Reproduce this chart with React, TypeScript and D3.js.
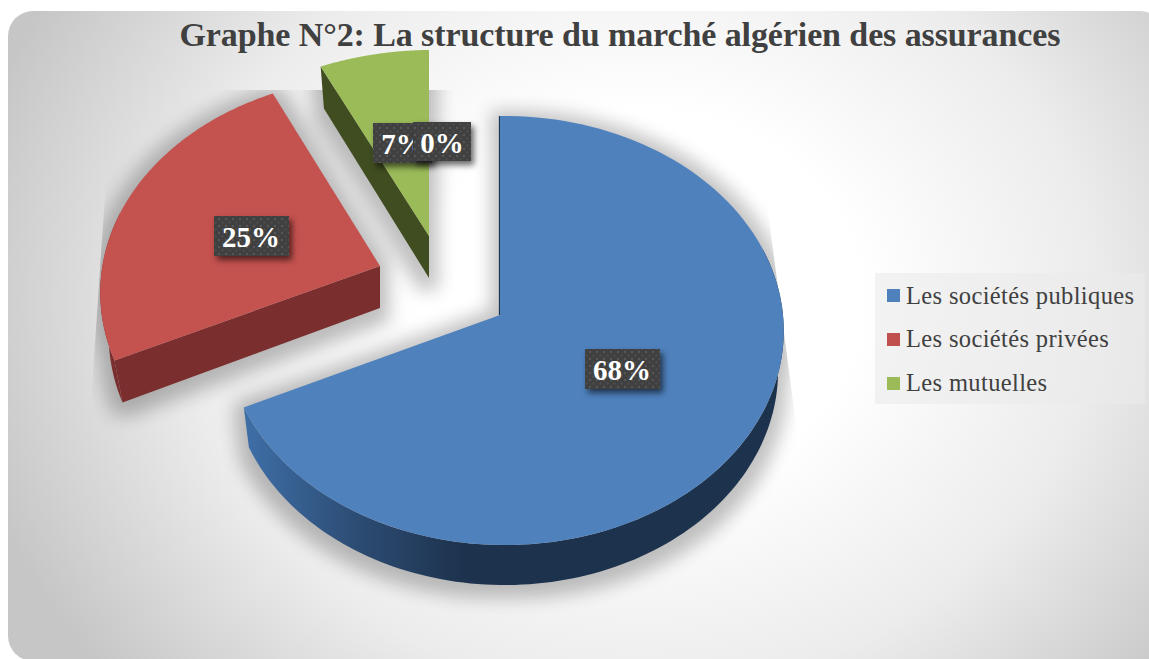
import React from "react";
import * as d3 from "d3";

const categories = ["Les sociétés publiques", "Les sociétés privées", "Les mutuelles", ""];
const shares = [68, 25, 7, 0];
const sliceColors = ["#4f81bd", "#c4524f", "#9bbb59"];
const sideColors = ["#1d324d", "#7a2f2e", "#404d20"];
const legendColors = ["#4f81bd", "#c0504d", "#9bbb59"];
const titleText = "Graphe N°2: La structure du marché algérien des assurances";

const W = 1149, H = 659;
const RY = 213.4, TILT_X = 0.0159;

// per-slice projection: apex position, perspective strength, extrusion
const sliceViews = [
  { ax: 500, ay: 315, rx: 278.5, k: 0.0723, depth: 40, shrink: 0.98, wall: [72, 244.8] },
  { ax: 380, ay: 266, rx: 282, k: 0.125, depth: 42, shrink: 0.97, wall: [244.8, 285] },
  { ax: 429, ay: 236, rx: 290, k: 0.147, depth: 42, shrink: 0.97, wall: null },
];
const labelBoxes = [
  { i: 0, x: 585, y: 349, w: 75, h: 40, text: "68%", tx: 622 },
  { i: 1, x: 214, y: 216, w: 75, h: 40, text: "25%", tx: 251 },
  { i: 2, x: 373, y: 123, w: 59, h: 40, text: "7%", tx: 403 },
  { i: 3, x: 413, y: 122, w: 58, h: 39, text: "0%", tx: 442 },
];

type View = (typeof sliceViews)[number];
type P = [number, number];

const project = (v: View, a: number): P => {
  const u = Math.sin(a), c = Math.cos(a);
  const w = 1 + v.k * c - TILT_X * u;
  return [v.ax + (v.rx * u) / w, v.ay - (RY * c) / w];
};
const lower = (v: View, p: P): P => [v.ax + (p[0] - v.ax) * v.shrink, p[1] + v.depth];
const lineGen = d3.line<P>();
const closed = (pts: P[]) => lineGen(pts) + "Z";
const arcPts = (v: View, a0: number, a1: number): P[] =>
  d3.range(0, 121).map((i) => project(v, a0 + ((a1 - a0) * i) / 120));

export default function App() {
  const arcs = d3.pie<number>().sort(null).value((d) => d)(shares).slice(0, 3);
  const geo = arcs.map((arc, i) => {
    const v = sliceViews[i];
    const apex: P = [v.ax, v.ay];
    const outer = arcPts(v, arc.startAngle, arc.endAngle);
    const top = closed([apex, ...outer]);
    const bottom = closed([apex, ...outer].map((p) => lower(v, p)));
    let wall: string | null = null;
    if (v.wall) {
      const w = arcPts(v, (v.wall[0] * Math.PI) / 180, (v.wall[1] * Math.PI) / 180);
      wall = closed([...w, ...w.map((p) => lower(v, p)).reverse()]);
    }
    const cutAngle = i === 0 ? null : arc.startAngle;
    let cut: string | null = null;
    if (cutAngle !== null) {
      const e = project(v, cutAngle);
      cut = closed([apex, e, lower(v, e), lower(v, apex)]);
    }
    return { top, bottom, wall, cut };
  });

  return (
    <svg width={W} height={H} style={{ position: "absolute", left: 0, top: 0, display: "block" }}>
      <defs>
        <radialGradient id="bg" gradientUnits="userSpaceOnUse" cx={0} cy={0} r={1}
          gradientTransform="translate(640 300) scale(690 590)">
          <stop offset="0.32" stopColor="#ffffff" />
          <stop offset="0.66" stopColor="#ececec" />
          <stop offset="1" stopColor="#c6c6c6" />
        </radialGradient>
        <linearGradient id="blueWall" gradientUnits="userSpaceOnUse" x1={243} x2={465} y1={0} y2={0}>
          <stop offset="0" stopColor="#3f6fa8" />
          <stop offset="0.55" stopColor="#2b4a70" />
          <stop offset="1" stopColor="#1d324d" />
        </linearGradient>
        <filter id="blur" filterUnits="userSpaceOnUse" x={0} y={0} width={W} height={H}>
          <feMorphology operator="dilate" radius="9" />
          <feGaussianBlur stdDeviation="9" />
        </filter>
        <filter id="labelShadow" x="-30%" y="-30%" width="170%" height="170%">
          <feDropShadow dx="3" dy="4" stdDeviation="3" floodColor="#000" floodOpacity="0.6" />
        </filter>
        <clipPath id="shadowClip">
          <polygon points="112,90 752,90 802,470 815,617 85,617 90,418" />
        </clipPath>
        <pattern id="dots" width="7" height="7" patternUnits="userSpaceOnUse">
          <rect width="7" height="7" fill="#404040" />
          <circle cx="2" cy="2" r="1.2" fill="#575757" />
          <circle cx="5.5" cy="5.5" r="1.2" fill="#4c4c4c" />
        </pattern>
      </defs>

      <rect x={8} y={11} width={1157} height={650} rx={25} fill="url(#bg)" />

      <g clipPath="url(#shadowClip)">
        <g filter="url(#blur)" opacity={0.24} transform="translate(0 4)">
          {geo.map((g, i) => (
            <g key={i} fill="#000">
              <path d={g.top} />
              <path d={g.bottom} />
              {g.wall && <path d={g.wall} />}
              {g.cut && <path d={g.cut} />}
            </g>
          ))}
        </g>
      </g>

      {geo.map((g, i) => (
        <g key={i}>
          {g.wall && <path d={g.wall} fill={i === 0 ? "url(#blueWall)" : sideColors[i]} />}
          {g.cut && <path d={g.cut} fill={sideColors[i]} />}
          {i === 0 && (
            <line x1={sliceViews[0].ax - 0.5} x2={sliceViews[0].ax - 0.5} y1={116} y2={315} stroke={sideColors[0]} strokeWidth={1.2} />
          )}
          <path d={g.top} fill={sliceColors[i]} />
        </g>
      ))}

      <text x={620} y={45.5} textAnchor="middle" fontFamily="Liberation Serif" fontWeight="bold" fontSize={34}
        fill="#404040" textLength={881} lengthAdjust="spacing">{titleText}</text>

      {labelBoxes.map((b) => (
        <g key={b.i}>
          <rect x={b.x} y={b.y} width={b.w} height={b.h} fill="url(#dots)" filter="url(#labelShadow)" />
          <text x={b.tx} y={b.y + 31} textAnchor="middle" fontFamily="Liberation Serif" fontWeight="bold" fontSize={29}
            fill="#fff">{b.text}</text>
        </g>
      ))}

      <rect x={875} y={273} width={270} height={131} fill="#ebebeb" opacity={0.6} />
      {categories.slice(0, 3).map((c, i) => (
        <g key={c}>
          <rect x={887} y={289 + i * 44} width={13} height={13} fill={legendColors[i]} />
          <text x={906} y={303.5 + i * 43.8} fontFamily="Liberation Serif" fontSize={24.5} fill="#404040" letterSpacing={0.36}>{c}</text>
        </g>
      ))}
    </svg>
  );
}
